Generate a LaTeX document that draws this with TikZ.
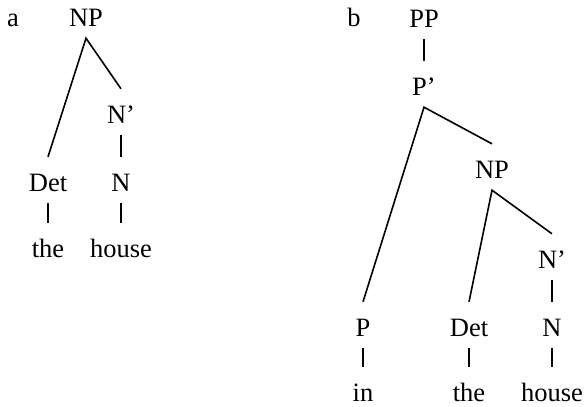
\documentclass[tikz,border=0pt]{standalone}
\usepackage{fontspec}
\setmainfont{Liberation Serif}
\usetikzlibrary{positioning}

\begin{document}
\begin{tikzpicture}[x=1bp,y=-1bp,
    lab/.style={anchor=base,font=\fontsize{26.5bp}{30bp}\selectfont},
    cat/.style={lab,text height=27bp,text depth=5bp,inner xsep=2bp,inner ysep=7bp},
    br/.style={line width=1.6bp}]
  \useasboundingbox (0,0) rectangle (584,406);
  % a
  \node[lab] (la) at (13,26) {a};
  \node[cat] (anp) at (86,26) {NP};
  \node[cat] (anb) at (121,123) {N'};
  \node[cat] (adet) at (48,191) {Det};
  \node[cat] (an) at (121,191) {N};
  \node[cat] (athe) at (48,257) {the};
  \node[cat] (ahouse) at (121,257) {house};
  \draw[br] (adet.north) -- (anp.south) -- (anb.north);
  \draw[br] (anb.south) -- (an.north);
  \draw[br] (adet.south) -- (athe.north);
  \draw[br] (an.south) -- (ahouse.north);
  % b
  \node[lab] (lb) at (354,26) {b};
  \node[cat] (bpp) at (424,27) {PP};
  \node[cat] (bpb) at (424,95) {P'};
  \node[cat] (bnp) at (492,178) {NP};
  \node[cat] (bnb) at (552,268) {N'};
  \node[cat] (bp) at (363,336) {P};
  \node[cat] (bdet) at (469,336) {Det};
  \node[cat] (bn) at (552,336) {N};
  \node[cat] (bin) at (363,401) {in};
  \node[cat] (bthe) at (469,401) {the};
  \node[cat] (bhouse) at (552,401) {house};
  \draw[br] (bpp.south) -- (bpb.north);
  \draw[br] (bp.north) -- (bpb.south) -- (bnp.north);
  \draw[br] (bdet.north) -- (bnp.south) -- (bnb.north);
  \draw[br] (bnb.south) -- (bn.north);
  \draw[br] (bp.south) -- (bin.north);
  \draw[br] (bdet.south) -- (bthe.north);
  \draw[br] (bn.south) -- (bhouse.north);
\end{tikzpicture}
\end{document}
